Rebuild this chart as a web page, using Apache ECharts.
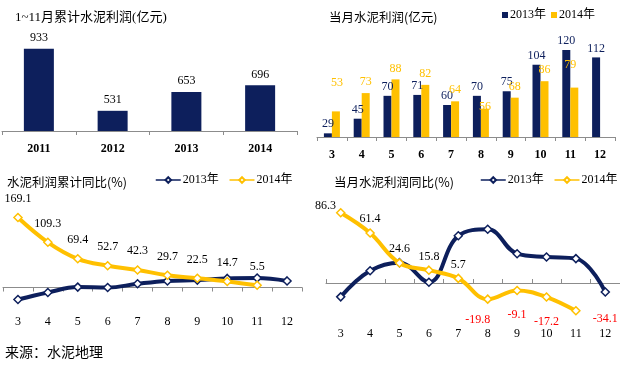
<!DOCTYPE html>
<html><head><meta charset="utf-8">
<script src="https://cdn.jsdelivr.net/npm/echarts@6/dist/echarts.min.js"></script>
<style>html,body{margin:0;padding:0;background:#fff}#c{width:620px;height:366px}</style>
</head><body><div id="c"></div>
<script>
// ---- data ----
const yearCats = ['2011', '2012', '2013', '2014'];
const cumProfit = [933, 531, 653, 696];
const months = ['3', '4', '5', '6', '7', '8', '9', '10', '11', '12'];
const monthly2013 = [29, 45, 70, 71, 60, 70, 75, 104, 120, 112];
const monthly2014 = [53, 73, 88, 82, 64, 56, 68, 86, 79, null];
const cumYoY2013 = [-29, -12, 1, 0, 9, 16, 18, 22, 23, 16];
const cumYoY2014 = [169.1, 109.3, 69.4, 52.7, 42.3, 29.7, 22.5, 14.7, 5.5, null];
const monYoY2013 = [-17, 15, 25, 1, 58, 66, 36, 32, 30, -11];
const monYoY2014 = [86.3, 61.4, 24.6, 15.8, 5.7, -19.8, -9.1, -17.2, -34.1, null];
const titles = ['1~11月累计水泥利润(亿元)', '当月水泥利润(亿元)', '水泥利润累计同比(%)', '当月水泥利润同比(%)'];
const seriesNames = ['2013年', '2014年'];
const source = '来源：水泥地理';

// ---- style ----
const NAVY = '#0d1f5c', YEL = '#ffc000';
const SERIF = '"Liberation Serif","Noto Sans CJK SC",serif';
const CJK = '"Noto Sans CJK SC","Liberation Serif",sans-serif';
const axisLine = {lineStyle: {color: '#8c8c8c', width: 1}};
const axisTick = {show: true, length: 4, lineStyle: {color: '#8c8c8c'}};
const hiddenY = {type: 'value', show: false, splitLine: {show: false}};
const lineNames = seriesNames.map(n => n + '\u200b');

function catAxis(gi, data, bold, tickInside) {
  return {type: 'category', gridIndex: gi, data: data, boundaryGap: true,
    axisLine: Object.assign({onZero: true}, axisLine),
    axisTick: Object.assign({alignWithLabel: false, inside: !!tickInside}, axisTick),
    axisLabel: {color: '#000', fontFamily: SERIF, fontSize: 12, fontWeight: bold ? 'bold' : 'normal', margin: 12, interval: 0}};
}
function lineSeries(name, data, color, xi, extra) {
  return Object.assign({type: 'line', name: name, xAxisIndex: xi, yAxisIndex: xi, data: data,
    smooth: 0.4, symbol: 'diamond', symbolSize: 8, showAllSymbol: true,
    lineStyle: {color: color, width: 4},
    itemStyle: {color: '#fff', borderColor: color, borderWidth: 1.5},
    emphasis: {disabled: true}, z: color === YEL ? 3 : 2}, extra || {});
}
function lineLegend(left) {
  return {data: lineNames, left: left, top: 174, width: 200, padding: 0, itemWidth: 25, itemHeight: 7, itemGap: 10,
    formatter: n => n.replace('\u200b', ''), lineStyle: {width: 1.5}, selectedMode: false,
    textStyle: {fontFamily: SERIF, fontSize: 12, color: '#000', padding: [0, 0, 0, -3]}};
}

// label nudges for the monthly 2014 bars (to avoid overlapping 2013 labels, as in the source)
const bar14Nudge = {0: [1, -18], 5: [0, 9], 8: [-4, -12]};
const monthly14Data = monthly2014.map((v, i) => {
  if (v == null) return v;
  return bar14Nudge[i] ? {value: v, label: {offset: bar14Nudge[i]}} : v;
});

const monYoY14Data = monYoY2014.map((v, i) => {
  if (v == null) return v;
  const neg = v < 0;
  const lab = {position: neg ? 'bottom' : 'top', distance: neg ? 14 : 3, color: neg ? '#ff0000' : '#000'};
  if (i === 0) { lab.position = 'left'; lab.offset = [2, -7]; lab.distance = 2; }
  if (neg && i === 5) { lab.offset = [-10, -4]; }
  if (neg && i === 8) { lab.position = 'right'; lab.offset = [-2, 8]; }
  return {value: v, label: lab};
});

const chart = echarts.init(document.getElementById('c'), null, {renderer: 'canvas'});
chart.setOption({
  animation: false,
  backgroundColor: '#fff',
  title: [
    {text: titles[0], left: 10, top: 6, textStyle: {fontFamily: SERIF, fontSize: 13, fontWeight: 'normal', color: '#000'}},
    {text: titles[1], left: 324, top: 6, textStyle: {fontFamily: CJK, fontSize: 12.5, fontWeight: 'normal', color: '#000'}},
    {text: titles[2], left: 2, top: 171, textStyle: {fontFamily: CJK, fontSize: 12.5, fontWeight: 'normal', color: '#000'}},
    {text: titles[3], left: 329, top: 171, textStyle: {fontFamily: CJK, fontSize: 12.5, fontWeight: 'normal', color: '#000'}},
    {text: source, left: 0, top: 340, textStyle: {fontFamily: CJK, fontSize: 14, fontWeight: 'normal', color: '#000'}}
  ],
  legend: [
    {data: seriesNames, left: 502, top: 9, padding: 0, icon: 'rect', itemWidth: 6, itemHeight: 6, itemGap: 5,
      textStyle: {fontFamily: SERIF, fontSize: 12, color: '#000', padding: [0, 0, 0, -3]}, selectedMode: false},
    lineLegend(155),
    lineLegend(480)
  ],
  grid: [
    {left: 2, top: 38.5, width: 295, height: 92.5},
    {left: 317, top: 31.8, width: 298, height: 105.2},
    {left: 3, top: 213, width: 299, height: 91.1},
    {left: 326, top: 201.6, width: 296, height: 114}
  ],
  xAxis: [
    catAxis(0, yearCats, true),
    catAxis(1, months, true),
    catAxis(2, months, false),
    catAxis(3, months, false, true)
  ],
  yAxis: [
    Object.assign({gridIndex: 0, min: 400, max: 1000}, hiddenY),
    Object.assign({gridIndex: 1, min: 25, max: 140}, hiddenY),
    Object.assign({gridIndex: 2, min: -40, max: 180}, hiddenY),
    Object.assign({gridIndex: 3, min: -40, max: 100}, hiddenY)
  ],
  series: [
    {type: 'bar', name: '累计', xAxisIndex: 0, yAxisIndex: 0, data: cumProfit, barWidth: 30,
      itemStyle: {color: NAVY},
      label: {show: true, position: 'top', distance: 5, color: '#000', fontFamily: SERIF, fontSize: 12}},
    {type: 'bar', name: seriesNames[0], xAxisIndex: 1, yAxisIndex: 1, data: monthly2013, barWidth: 8, barGap: '0%',
      itemStyle: {color: NAVY},
      label: {show: true, position: 'top', distance: 3, color: NAVY, fontFamily: SERIF, fontSize: 12}},
    {type: 'bar', name: seriesNames[1], xAxisIndex: 1, yAxisIndex: 1, data: monthly14Data, barWidth: 8, barGap: '0%',
      itemStyle: {color: YEL},
      label: {show: true, position: 'top', distance: 5, color: YEL, fontFamily: SERIF, fontSize: 12}},
    lineSeries(lineNames[0], cumYoY2013, NAVY, 2),
    lineSeries(lineNames[1], cumYoY2014, YEL, 2,
      {label: {show: true, position: 'top', distance: 8, color: '#000', fontFamily: SERIF, fontSize: 12}}),
    lineSeries(lineNames[0], monYoY2013, NAVY, 3),
    lineSeries(lineNames[1], monYoY14Data, YEL, 3,
      {label: {show: true, fontFamily: SERIF, fontSize: 12}})
  ]
});
</script></body></html>
